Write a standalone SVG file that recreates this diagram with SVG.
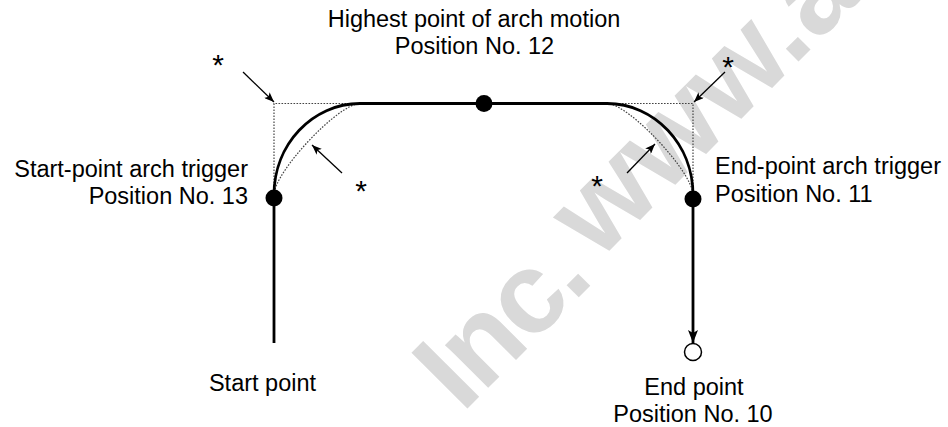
<svg xmlns="http://www.w3.org/2000/svg" width="948" height="427" viewBox="0 0 948 427">
<style>
.t{font-family:"Liberation Sans",Arial,sans-serif;font-size:23.5px;fill:#000}
.ast{font-family:"Liberation Sans",Arial,sans-serif;font-size:30px;fill:#000}
.wm{font-family:"Liberation Sans",Arial,sans-serif;font-weight:bold;fill:#d9d9d9}
.path{fill:none;stroke:#000;stroke-width:2.8}
.dot{fill:none;stroke:#444;stroke-width:1.2;stroke-dasharray:1.6 1.4}
.ann{fill:none;stroke:#000;stroke-width:1.3}
</style>
<defs>
<marker id="ah" viewBox="0 0 10 8" refX="10" refY="4" markerWidth="10" markerHeight="8" markerUnits="userSpaceOnUse" orient="auto">
<path d="M0,0 L10,4 L0,8 L2.5,4 Z" fill="#000"/>
</marker>
<marker id="ahBig" viewBox="0 0 13 10" refX="13" refY="5" markerWidth="13" markerHeight="10" markerUnits="userSpaceOnUse" orient="auto">
<path d="M0,0 L13,5 L0,10 L3,5 Z" fill="#000"/>
</marker>
</defs>
<rect width="948" height="427" fill="#fff"/>
<g id="watermark">
<text class="wm" font-size="115" letter-spacing="-3" transform="translate(462,414) rotate(-45)">Inc.</text>
<text class="wm" font-size="120" transform="translate(598,262) rotate(-45)">www.a</text>
</g>
<g id="connectors">
<path class="dot" d="M274,195 L274,103.5 L360,103.5"/>
<path class="dot" d="M607,103.5 L693,103.5 L693,195"/>
<path class="dot" d="M274,195 C274,172 338.5,103.5 360,103.5"/>
<path class="dot" d="M607,103.5 C628.5,103.5 693,172 693,195"/>
<path class="path" d="M274,343 L274,195 C274,144.2 312.5,103.5 360,103.5 L607,103.5 C654.5,103.5 693,144.2 693,195 L693,343" marker-end="url(#ahBig)"/>
<line class="ann" x1="243" y1="72" x2="274" y2="102" marker-end="url(#ah)"/>
<line class="ann" x1="342" y1="173" x2="312" y2="145" marker-end="url(#ah)"/>
<line class="ann" x1="725" y1="72" x2="694" y2="102" marker-end="url(#ah)"/>
<line class="ann" x1="627" y1="173" x2="655" y2="144" marker-end="url(#ah)"/>
<text class="ast" x="218" y="75" text-anchor="middle">*</text>
<text class="ast" x="361" y="201" text-anchor="middle">*</text>
<text class="ast" x="728" y="77" text-anchor="middle">*</text>
<text class="ast" x="597" y="196" text-anchor="middle">*</text>
</g>
<g id="start-point">
<text class="t" x="262.5" y="391" text-anchor="middle">Start point</text>
</g>
<g id="start-trigger-13">
<circle cx="274" cy="198" r="8.5" fill="#000"/>
<text class="t" x="248" y="177" text-anchor="end">Start-point arch trigger</text>
<text class="t" x="248" y="204" text-anchor="end">Position No. 13</text>
</g>
<g id="highest-12">
<circle cx="484" cy="103.5" r="8.5" fill="#000"/>
<text class="t" x="474" y="27" text-anchor="middle">Highest point of arch motion</text>
<text class="t" x="474.5" y="54" text-anchor="middle">Position No. 12</text>
</g>
<g id="end-trigger-11">
<circle cx="693" cy="199" r="8.5" fill="#000"/>
<text class="t" x="715" y="174" text-anchor="start">End-point arch trigger</text>
<text class="t" x="715" y="202" text-anchor="start">Position No. 11</text>
</g>
<g id="end-point-10">
<circle cx="693" cy="352" r="8.5" fill="#fff" stroke="#000" stroke-width="1.5"/>
<text class="t" x="694" y="395" text-anchor="middle">End point</text>
<text class="t" x="693" y="422" text-anchor="middle">Position No. 10</text>
</g>
</svg>
